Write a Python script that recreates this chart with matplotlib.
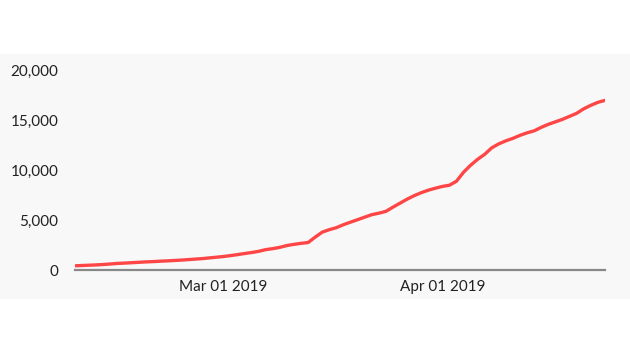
import numpy as np
import pandas as pd
import matplotlib
matplotlib.use('Agg')
import matplotlib.pyplot as plt
import matplotlib.dates as mdates
from matplotlib.patches import Rectangle
from matplotlib.ticker import FuncFormatter

# daily cumulative values, Feb 08 2019 .. Apr 24 2019
start_date = '2019-02-08'
values = [430, 460, 490, 520, 560, 610, 670, 700, 740, 780,
          820, 850, 890, 920, 960, 1000, 1050, 1100, 1150, 1220,
          1290, 1360, 1450, 1550, 1660, 1760, 1880, 2050, 2150, 2280,
          2460, 2580, 2680, 2760, 3300, 3800, 4050, 4250, 4550, 4800,
          5050, 5300, 5550, 5700, 5880, 6300, 6700, 7100, 7450, 7750,
          8000, 8200, 8380, 8500, 8900, 9800, 10500, 11100, 11600, 12250,
          12650, 12950, 13200, 13500, 13750, 13950, 14300, 14600, 14850, 15100,
          15400, 15700, 16150, 16500, 16800, 17000]
dates = pd.date_range(start_date, periods=len(values), freq='D')
y_ticks = [0, 5000, 10000, 15000, 20000]
x_ticks = ['2019-03-01', '2019-04-01']

plt.rcParams['font.family'] = ['Lato', 'DejaVu Sans']

fig = plt.figure(figsize=(6.3, 3.54), dpi=100)
fig.patch.set_facecolor('white')
# light grey panel behind the chart
fig.patches.append(Rectangle((0, 0.155), 1, 0.692, transform=fig.transFigure,
                             facecolor='#f8f8f8', edgecolor='none', zorder=-10))

ax = fig.add_axes([0.119, 0.237, 0.841, 0.564])
ax.set_facecolor('none')
ax.plot(dates, values, color='#ff4646', linewidth=2.4, solid_capstyle='round', zorder=3)

ax.set_ylim(0, 20000)
ax.set_xlim(dates[0], dates[-1])
ax.set_yticks(y_ticks)
ax.yaxis.set_major_formatter(FuncFormatter(lambda v, p: f'{int(v):,}'))
ax.set_xticks(pd.to_datetime(x_ticks))
ax.xaxis.set_major_formatter(mdates.DateFormatter('%b %d %Y'))

for s in ['top', 'right', 'left']:
    ax.spines[s].set_visible(False)
ax.spines['bottom'].set_color('#888888')
ax.spines['bottom'].set_linewidth(1.6)
ax.spines['bottom'].set_zorder(2)
ax.tick_params(axis='both', length=0, labelsize=11, labelcolor='#222222')
ax.tick_params(axis='y', pad=12)
ax.tick_params(axis='x', pad=7)

plt.savefig('out.png', dpi=100)
plt.close()
